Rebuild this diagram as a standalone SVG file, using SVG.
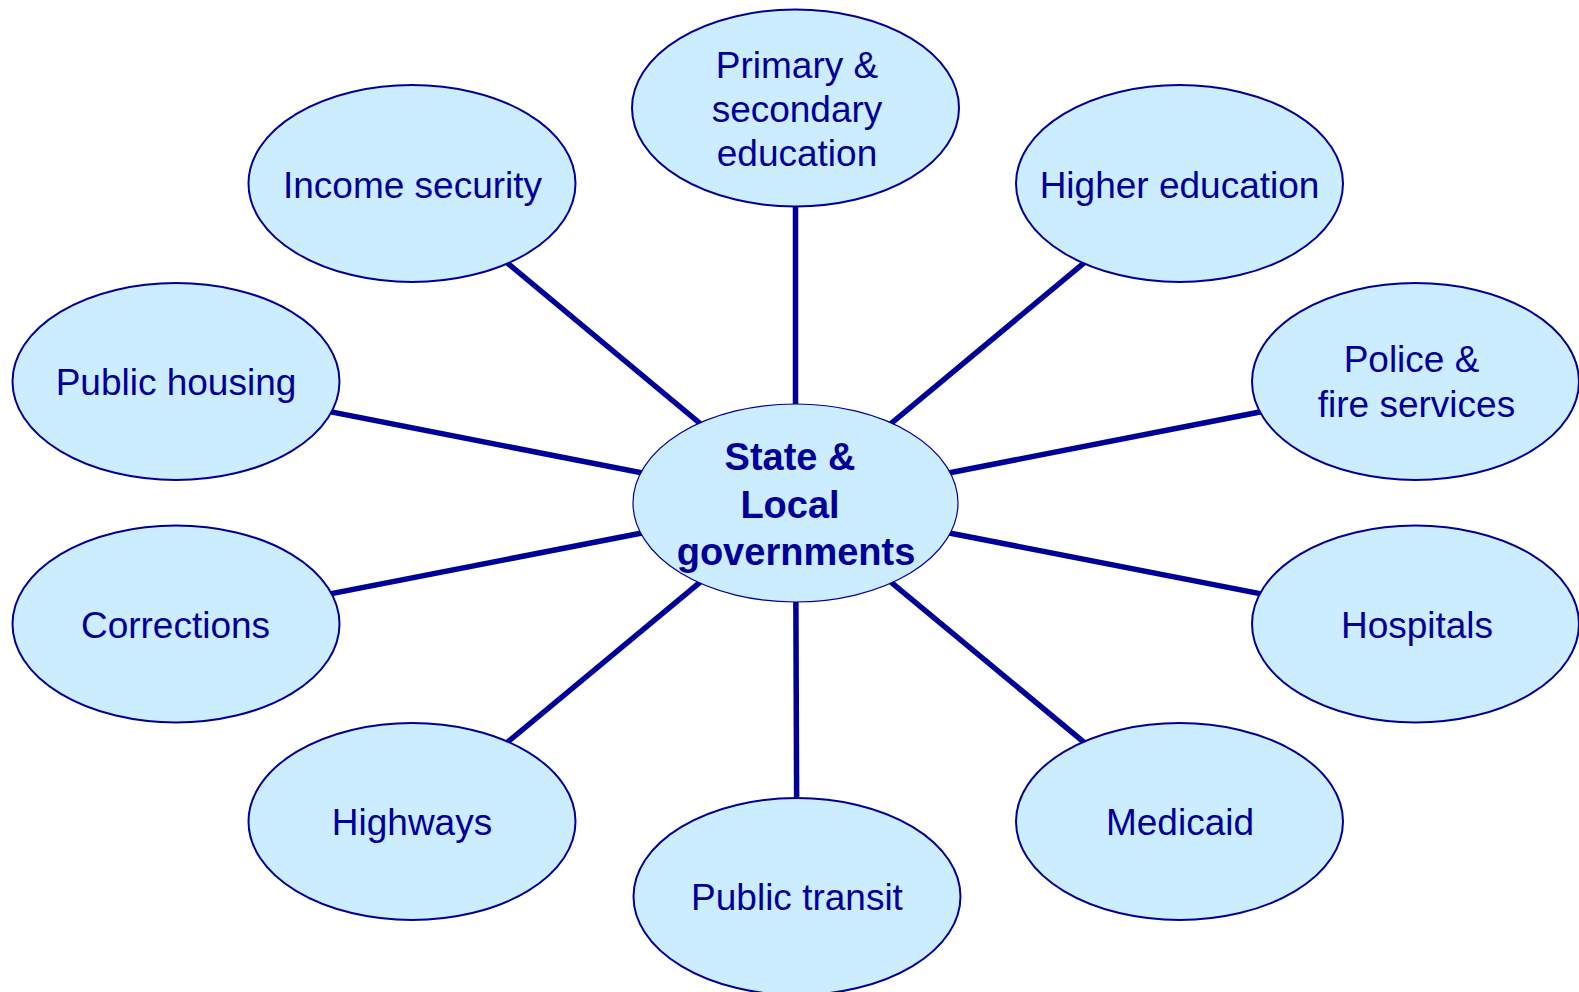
<svg xmlns="http://www.w3.org/2000/svg" width="1579" height="992" viewBox="0 0 1579 992">
  <style>
    .spoke { stroke: #000099; stroke-width: 5.5; fill: none; }
    .bubble { fill: #CCECFF; stroke: #000099; stroke-width: 2; }
    .hub { fill: #CCECFF; stroke: #000099; stroke-width: 1.2; }
    .label { font-family: "Liberation Sans", Arial, sans-serif; font-size: 37px; fill: #000099; text-anchor: middle; }
    .hub-label { font-family: "Liberation Sans", Arial, sans-serif; font-size: 38px; font-weight: bold; fill: #000099; text-anchor: middle; }
  </style>
  <rect width="1579" height="992" fill="#FFFFFF"/>

  <!-- spokes from the hub to each service, drawn centre to centre beneath the ellipses -->
  <g id="connectors">
    <line class="spoke" x1="795.5" y1="503" x2="412" y2="183.5"/>
    <line class="spoke" x1="795.5" y1="503" x2="795.5" y2="108"/>
    <line class="spoke" x1="795.5" y1="503" x2="1179.5" y2="183.5"/>
    <line class="spoke" x1="795.5" y1="503" x2="1415.5" y2="381.5"/>
    <line class="spoke" x1="795.5" y1="503" x2="1415.5" y2="624"/>
    <line class="spoke" x1="795.5" y1="503" x2="1179.5" y2="821.5"/>
    <line class="spoke" x1="795.5" y1="503" x2="797" y2="896.5"/>
    <line class="spoke" x1="795.5" y1="503" x2="412" y2="821.5"/>
    <line class="spoke" x1="795.5" y1="503" x2="176" y2="624"/>
    <line class="spoke" x1="795.5" y1="503" x2="176" y2="381.5"/>
  </g>

  <g id="node-income-security">
    <ellipse class="bubble" cx="412" cy="183.5" rx="163.5" ry="98.5"/>
    <text class="label" x="412.5" y="198">Income security</text>
  </g>

  <g id="node-primary-secondary">
    <ellipse class="bubble" cx="795.5" cy="108" rx="163.5" ry="98.5"/>
    <text class="label" x="797" y="78">Primary &amp;</text>
    <text class="label" x="797" y="122">secondary</text>
    <text class="label" x="797" y="166">education</text>
  </g>

  <g id="node-higher-education">
    <ellipse class="bubble" cx="1179.5" cy="183.5" rx="163.5" ry="98.5"/>
    <text class="label" x="1179.5" y="198">Higher education</text>
  </g>

  <g id="node-police-fire">
    <ellipse class="bubble" cx="1415.5" cy="381.5" rx="163.5" ry="98.5"/>
    <text class="label" x="1411.5" y="372">Police &amp;</text>
    <text class="label" x="1416.5" y="417">fire services</text>
  </g>

  <g id="node-hospitals">
    <ellipse class="bubble" cx="1415.5" cy="624" rx="163.5" ry="98.5"/>
    <text class="label" x="1417" y="638">Hospitals</text>
  </g>

  <g id="node-medicaid">
    <ellipse class="bubble" cx="1179.5" cy="821.5" rx="163.5" ry="98.5"/>
    <text class="label" x="1180" y="835">Medicaid</text>
  </g>

  <g id="node-public-transit">
    <ellipse class="bubble" cx="797" cy="896.5" rx="163.5" ry="98.5"/>
    <text class="label" x="797" y="910">Public transit</text>
  </g>

  <g id="node-highways">
    <ellipse class="bubble" cx="412" cy="821.5" rx="163.5" ry="98.5"/>
    <text class="label" x="412" y="835">Highways</text>
  </g>

  <g id="node-corrections">
    <ellipse class="bubble" cx="176" cy="624" rx="163.5" ry="98.5"/>
    <text class="label" x="175.5" y="638">Corrections</text>
  </g>

  <g id="node-public-housing">
    <ellipse class="bubble" cx="176" cy="381.5" rx="163.5" ry="98.5"/>
    <text class="label" x="176" y="395">Public housing</text>
  </g>

  <g id="node-state-local">
    <ellipse class="hub" cx="795.5" cy="503" rx="162.5" ry="99"/>
    <text class="hub-label" x="790" y="470">State &amp;</text>
    <text class="hub-label" x="790" y="518">Local</text>
    <text class="hub-label" x="796" y="565">governments</text>
  </g>
</svg>
